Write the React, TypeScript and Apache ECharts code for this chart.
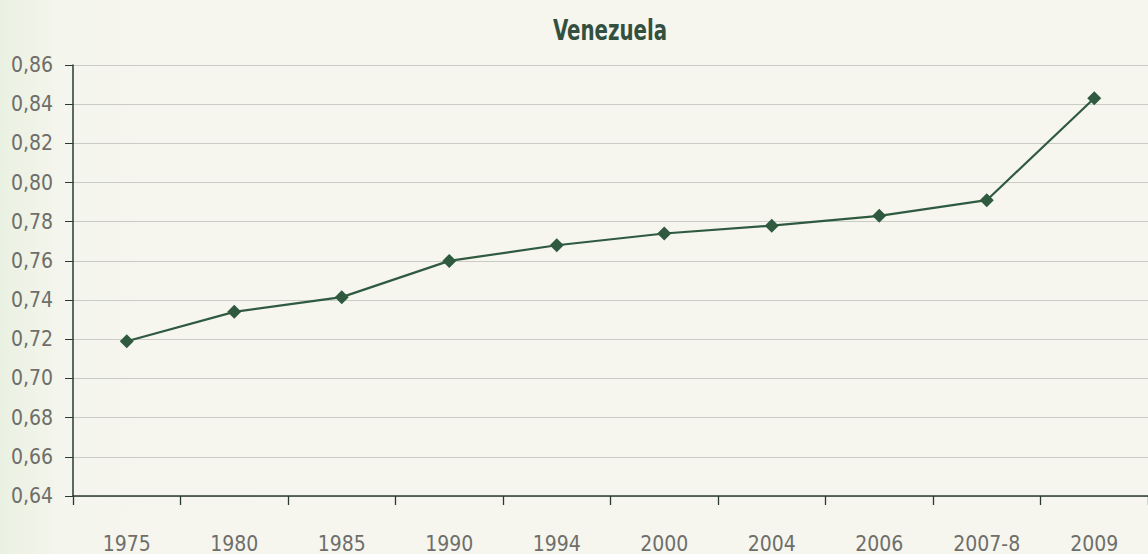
import React, { useEffect, useRef } from "react";
import * as echarts from "echarts";

const categories = ["1975", "1980", "1985", "1990", "1994", "2000", "2004", "2006", "2007-8", "2009"];
const values = [0.719, 0.734, 0.7415, 0.760, 0.768, 0.774, 0.778, 0.783, 0.791, 0.843];
const title = "Venezuela";

export default function App() {
  const ref = useRef<HTMLDivElement>(null);
  useEffect(() => {
    const chart = echarts.init(ref.current!, null, { renderer: "svg" });
    const font = "'Liberation Sans Narrow', 'DejaVu Sans Condensed', 'Roboto', sans-serif";
    chart.setOption({
      animation: false,
      backgroundColor: {
        type: "linear",
        x: 0, y: 0, x2: 1, y2: 0,
        colorStops: [
          { offset: 0, color: "#eaf1e2" },
          { offset: 0.05, color: "#f4f5ec" },
          { offset: 0.12, color: "#f6f6ef" },
          { offset: 1, color: "#f6f6ef" },
        ],
      },
      graphic: [
        {
          type: "text",
          x: 610,
          y: 31,
          scaleY: 1.25,
          style: {
            text: title,
            align: "center",
            verticalAlign: "middle",
            fontFamily: font,
            fontSize: 22,
            fontWeight: "bold",
            fill: "#33503f",
          },
        },
      ],
      grid: { left: 73, top: 65, width: 1078, height: 431 },
      xAxis: {
        type: "category",
        data: categories,
        boundaryGap: true,
        axisLine: { show: true, lineStyle: { color: "#2b3a2f", width: 1.5 } },
        axisTick: { show: true, alignWithLabel: false, interval: 0, length: 9, lineStyle: { color: "#2b3a2f", width: 1.3 } },
        axisLabel: { margin: 37, fontFamily: font, fontSize: 21, color: "#6e6e6a" },
      },
      yAxis: {
        type: "value",
        min: 0.64,
        max: 0.86,
        interval: 0.02,
        axisLine: { show: true, lineStyle: { color: "#2b3a2f", width: 1.5 } },
        axisTick: { show: true, length: 8, lineStyle: { color: "#2b3a2f" } },
        axisLabel: {
          margin: 20,
          fontFamily: font,
          fontSize: 21,
          color: "#6e6e6a",
          formatter: (v: number) => v.toFixed(2).replace(".", ","),
        },
        splitLine: { lineStyle: { color: "#c9cbc4", width: 1 } },
      },
      series: [
        {
          type: "line",
          data: values,
          symbol: "diamond",
          symbolSize: 14,
          lineStyle: { color: "#2f5a40", width: 2.2 },
          itemStyle: { color: "#2f5a40" },
        },
      ],
    });
    return () => chart.dispose();
  }, []);
  return <div ref={ref} style={{ position: "fixed", left: 0, top: 0, width: 1148, height: 554 }} />;
}
